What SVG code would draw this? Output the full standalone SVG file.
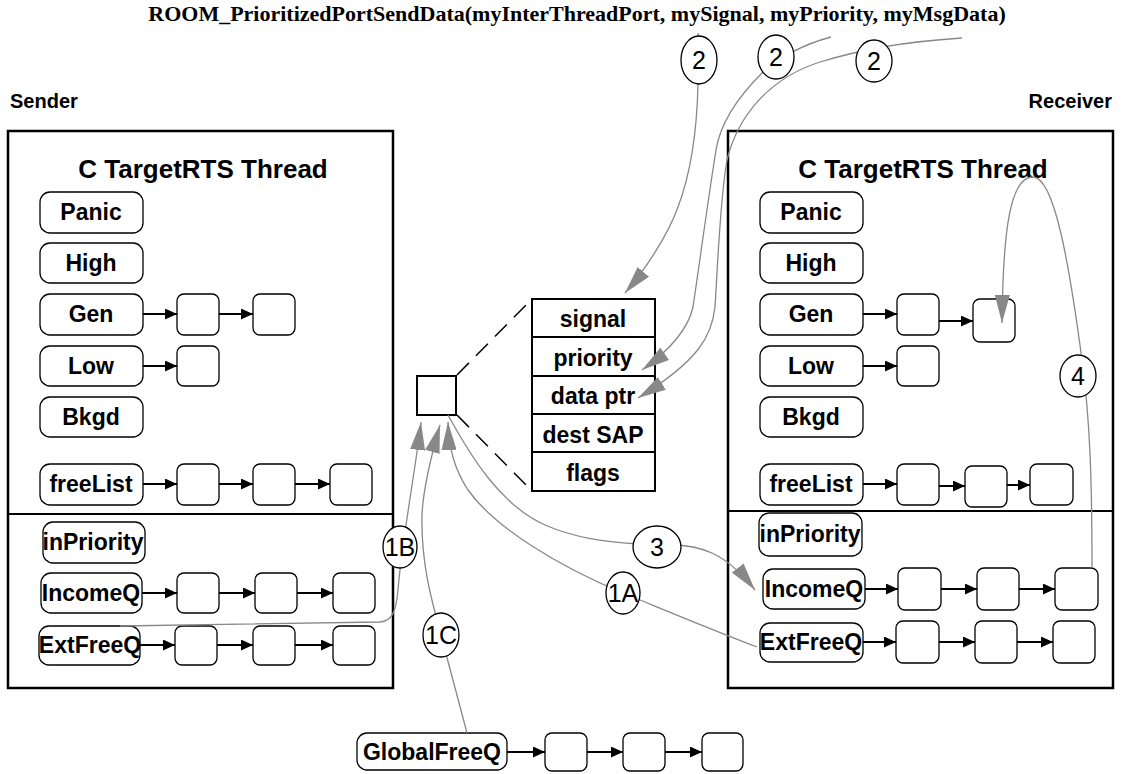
<svg xmlns="http://www.w3.org/2000/svg" width="1122" height="774" viewBox="0 0 1122 774">
<defs>
<style>
.frame{fill:none;stroke:#000;stroke-width:2.5}
.div{stroke:#000;stroke-width:2}
.q{fill:#fff;stroke:#000;stroke-width:1.3}
.cell{fill:#fff;stroke:#000;stroke-width:1.3}
.tbl{fill:#fff;stroke:#000;stroke-width:2}
.lbl{font-family:"Liberation Sans",Arial,sans-serif;font-weight:bold;font-size:23px;text-anchor:middle;fill:#000}
.ttl{font-family:"Liberation Sans",Arial,sans-serif;font-weight:bold;font-size:26px;text-anchor:middle;fill:#000}
.side{font-family:"Liberation Sans",Arial,sans-serif;font-weight:bold;font-size:20px;fill:#000}
.head{font-family:"Liberation Serif","Times New Roman",serif;font-weight:bold;font-size:22px;text-anchor:middle;fill:#000}
.num{font-family:"Liberation Sans",Arial,sans-serif;font-size:25px;text-anchor:middle;fill:#000}
.bk{stroke:#000;stroke-width:2;fill:none;marker-end:url(#ba)}
.gr{stroke:#888;stroke-width:1.3;fill:none;marker-end:url(#ga)}
.dash{stroke:#000;stroke-width:1.5;stroke-dasharray:17 10;fill:none}
.circ{fill:#fff;stroke:#000;stroke-width:1.3}
</style>
<marker id="ba" markerUnits="userSpaceOnUse" markerWidth="12" markerHeight="11" viewBox="0 0 12 11" refX="12" refY="5.5" orient="auto"><path d="M0,0 L12,5.5 L0,11 Z" fill="#000"/></marker>
<marker id="ga" markerUnits="userSpaceOnUse" markerWidth="28" markerHeight="15" viewBox="0 0 28 15" refX="28" refY="7.5" orient="auto"><path d="M0,0 L28,7.5 L0,15 Z" fill="#888"/></marker>
</defs>
<rect width="1122" height="774" fill="#fff"/>

<text class="head" x="577" y="21">ROOM_PrioritizedPortSendData(myInterThreadPort, mySignal, myPriority, myMsgData)</text>
<text class="side" x="10" y="108">Sender</text>
<text class="side" x="1112" y="108" text-anchor="end">Receiver</text>

<g id="sender-thread">
<rect class="frame" x="8" y="131" width="385" height="557"/>
<line class="div" x1="8" y1="514" x2="393" y2="514"/>
<text class="ttl" x="203" y="178">C TargetRTS Thread</text>
</g>
<g id="s-panic"><rect class="q" x="40" y="192" width="103" height="41" rx="10"/><text class="lbl" x="91" y="220">Panic</text></g>
<g id="s-high"><rect class="q" x="40" y="243" width="103" height="40" rx="10"/><text class="lbl" x="91" y="271">High</text></g>
<g id="s-gen"><rect class="q" x="40" y="294" width="103" height="41" rx="10"/><text class="lbl" x="91" y="322">Gen</text></g>
<g id="s-gen-1"><rect class="cell" x="177" y="294" width="42" height="41" rx="7"/></g>
<g id="s-gen-2"><rect class="cell" x="253" y="294" width="42" height="41" rx="7"/></g>
<g id="s-low"><rect class="q" x="40" y="346" width="103" height="40" rx="10"/><text class="lbl" x="91" y="374">Low</text></g>
<g id="s-low-1"><rect class="cell" x="177" y="346" width="42" height="40" rx="7"/></g>
<g id="s-bkgd"><rect class="q" x="40" y="397" width="103" height="40" rx="10"/><text class="lbl" x="91" y="425">Bkgd</text></g>
<g id="s-freelist"><rect class="q" x="40" y="464" width="103" height="41" rx="10"/><text class="lbl" x="91" y="492">freeList</text></g>
<g id="s-fl-1"><rect class="cell" x="177" y="464" width="42" height="41" rx="7"/></g>
<g id="s-fl-2"><rect class="cell" x="253" y="464" width="42" height="41" rx="7"/></g>
<g id="s-fl-3"><rect class="cell" x="330" y="464" width="42" height="41" rx="7"/></g>
<g id="s-inpriority"><rect class="q" x="43" y="522" width="102" height="41" rx="10"/><text class="lbl" x="93" y="550">inPriority</text></g>
<g id="s-incomeq"><rect class="q" x="41" y="573" width="101" height="40" rx="10"/><text class="lbl" x="91" y="601">IncomeQ</text></g>
<g id="s-iq-1"><rect class="cell" x="177" y="573" width="42" height="40" rx="7"/></g>
<g id="s-iq-2"><rect class="cell" x="255" y="573" width="42" height="40" rx="7"/></g>
<g id="s-iq-3"><rect class="cell" x="333" y="573" width="42" height="40" rx="7"/></g>
<g id="s-extfreeq"><rect class="q" x="39" y="626" width="101" height="39" rx="10"/><text class="lbl" x="90" y="653">ExtFreeQ</text></g>
<g id="s-ef-1"><rect class="cell" x="175" y="626" width="42" height="39" rx="7"/></g>
<g id="s-ef-2"><rect class="cell" x="253" y="626" width="42" height="39" rx="7"/></g>
<g id="s-ef-3"><rect class="cell" x="333" y="626" width="42" height="39" rx="7"/></g>

<g id="receiver-thread">
<rect class="frame" x="728" y="131" width="385" height="557"/>
<line class="div" x1="728" y1="511" x2="1113" y2="511"/>
<text class="ttl" x="923" y="178">C TargetRTS Thread</text>
</g>
<g id="r-panic"><rect class="q" x="760" y="192" width="103" height="41" rx="10"/><text class="lbl" x="811" y="220">Panic</text></g>
<g id="r-high"><rect class="q" x="760" y="243" width="103" height="40" rx="10"/><text class="lbl" x="811" y="271">High</text></g>
<g id="r-gen"><rect class="q" x="760" y="294" width="103" height="41" rx="10"/><text class="lbl" x="811" y="322">Gen</text></g>
<g id="r-gen-1"><rect class="cell" x="897" y="294" width="42" height="41" rx="7"/></g>
<g id="r-gen-2"><rect class="cell" x="973" y="299" width="42" height="43" rx="7"/></g>
<g id="r-low"><rect class="q" x="760" y="346" width="103" height="40" rx="10"/><text class="lbl" x="811" y="374">Low</text></g>
<g id="r-low-1"><rect class="cell" x="897" y="346" width="42" height="40" rx="7"/></g>
<g id="r-bkgd"><rect class="q" x="760" y="397" width="103" height="40" rx="10"/><text class="lbl" x="811" y="425">Bkgd</text></g>
<g id="r-freelist"><rect class="q" x="760" y="464" width="103" height="41" rx="10"/><text class="lbl" x="811" y="492">freeList</text></g>
<g id="r-fl-1"><rect class="cell" x="897" y="464" width="42" height="41" rx="7"/></g>
<g id="r-fl-2"><rect class="cell" x="965" y="466" width="42" height="41" rx="7"/></g>
<g id="r-fl-3"><rect class="cell" x="1030" y="464" width="43" height="41" rx="7"/></g>
<g id="r-inpriority"><rect class="q" x="759" y="513" width="103" height="43" rx="10"/><text class="lbl" x="810" y="542">inPriority</text></g>
<g id="r-incomeq"><rect class="q" x="763" y="569" width="102" height="40" rx="10"/><text class="lbl" x="814" y="597">IncomeQ</text></g>
<g id="r-iq-1"><rect class="cell" x="898" y="568" width="43" height="42" rx="7"/></g>
<g id="r-iq-2"><rect class="cell" x="977" y="568" width="42" height="42" rx="7"/></g>
<g id="r-iq-3"><rect class="cell" x="1055" y="568" width="43" height="42" rx="7"/></g>
<g id="r-extfreeq"><rect class="q" x="760" y="623" width="103" height="39" rx="10"/><text class="lbl" x="811" y="650">ExtFreeQ</text></g>
<g id="r-ef-1"><rect class="cell" x="896" y="621" width="43" height="42" rx="7"/></g>
<g id="r-ef-2"><rect class="cell" x="975" y="621" width="42" height="42" rx="7"/></g>
<g id="r-ef-3"><rect class="cell" x="1053" y="621" width="42" height="42" rx="7"/></g>

<g id="globalfreeq"><rect class="q" x="357" y="733" width="150" height="37" rx="10"/><text class="lbl" x="432" y="760">GlobalFreeQ</text></g>
<g id="g-1"><rect class="cell" x="545" y="733" width="42" height="38" rx="7"/></g>
<g id="g-2"><rect class="cell" x="623" y="733" width="42" height="38" rx="7"/></g>
<g id="g-3"><rect class="cell" x="702" y="733" width="41" height="38" rx="7"/></g>

<g id="message"><rect fill="#fff" stroke="#000" stroke-width="2" x="417" y="376" width="39" height="39"/></g>
<g id="message-struct">
<rect class="tbl" x="532" y="299" width="123" height="38"/>
<rect class="tbl" x="532" y="337" width="123" height="39"/>
<rect class="tbl" x="532" y="376" width="123" height="38"/>
<rect class="tbl" x="532" y="414" width="123" height="38"/>
<rect class="tbl" x="532" y="452" width="123" height="39"/>
<text class="lbl" x="593" y="327">signal</text>
<text class="lbl" x="593" y="366">priority</text>
<text class="lbl" x="593" y="404">data ptr</text>
<text class="lbl" x="593" y="443">dest SAP</text>
<text class="lbl" x="593" y="481">flags</text>
</g>

<g id="connectors">
<path class="dash" d="M457,375 L531,300"/>
<path class="dash" d="M457,415 L531,490"/>
<path class="bk" d="M143,314 L177,314"/><path class="bk" d="M219,314 L253,314"/>
<path class="bk" d="M143,366 L177,366"/>
<path class="bk" d="M143,484 L177,484"/><path class="bk" d="M219,484 L253,484"/><path class="bk" d="M295,484 L330,484"/>
<path class="bk" d="M142,593 L177,593"/><path class="bk" d="M219,593 L255,593"/><path class="bk" d="M297,593 L333,593"/>
<path class="bk" d="M140,645 L175,645"/><path class="bk" d="M217,645 L253,645"/><path class="bk" d="M295,645 L333,645"/>
<path class="bk" d="M863,314 L897,314"/><path class="bk" d="M939,321 L973,321"/>
<path class="bk" d="M863,366 L897,366"/>
<path class="bk" d="M863,484 L897,484"/><path class="bk" d="M939,486 L965,486"/><path class="bk" d="M1007,485 L1030,485"/>
<path class="bk" d="M865,589 L898,589"/><path class="bk" d="M941,589 L977,589"/><path class="bk" d="M1019,589 L1055,589"/>
<path class="bk" d="M863,642 L896,642"/><path class="bk" d="M939,642 L975,642"/><path class="bk" d="M1017,642 L1053,642"/>
<path class="bk" d="M507,752 L545,752"/><path class="bk" d="M587,752 L623,752"/><path class="bk" d="M665,752 L702,752"/>
<path class="gr" d="M698,33 L698,84 C697,130 692,170 678,207 C668,235 645,270 625,293"/>
<path class="gr" d="M831,37 Q790,48 762,73 C735,100 720,125 716,150 C708,200 700,260 693,307 C688,330 670,350 642,370"/>
<path class="gr" d="M962,38 C900,42 860,50 820,62 C770,78 738,115 727,160 C720,200 718,260 715,307 C712,335 700,360 638,398"/>
<path class="gr" d="M448,415 C470,455 500,505 545,525 C575,538 605,542 640,544 L670,545 C700,545 725,552 755,590"/>
<path class="gr" d="M757,647 C700,625 660,608 623,593 C560,567 495,528 468,490 C455,470 449,450 448,422"/>
<path class="gr" d="M120,626 L380,622 C392,621 396,612 398,590 C402,540 414,480 421,422"/>
<path class="gr" d="M467,733 L441,635 C430,595 421,560 422,515 C423,490 430,460 440,425"/>
<path class="gr" d="M1092,568 C1092,480 1090,420 1082,360 C1070,270 1055,177 1033,177 C1010,177 1003,230 1002,323"/>
</g>

<g id="step-labels">
<g id="c2a"><ellipse class="circ" cx="699" cy="60" rx="18" ry="24"/><text class="num" x="699" y="69">2</text></g>
<g id="c2b"><ellipse class="circ" cx="776" cy="57" rx="18" ry="22"/><text class="num" x="776" y="66">2</text></g>
<g id="c2c"><ellipse class="circ" cx="874" cy="61" rx="18" ry="21"/><text class="num" x="874" y="70">2</text></g>
<g id="c1b"><ellipse class="circ" cx="400" cy="547" rx="17" ry="21"/><text class="num" x="400" y="556">1B</text></g>
<g id="c1c"><ellipse class="circ" cx="441" cy="635" rx="18" ry="22"/><text class="num" x="441" y="644">1C</text></g>
<g id="c3"><ellipse class="circ" cx="657" cy="547" rx="24" ry="21"/><text class="num" x="657" y="556">3</text></g>
<g id="c1a"><ellipse class="circ" cx="623" cy="593" rx="17" ry="21"/><text class="num" x="623" y="602">1A</text></g>
<g id="c4"><ellipse class="circ" cx="1078" cy="376" rx="18" ry="21"/><text class="num" x="1078" y="385">4</text></g>
</g>
</svg>
